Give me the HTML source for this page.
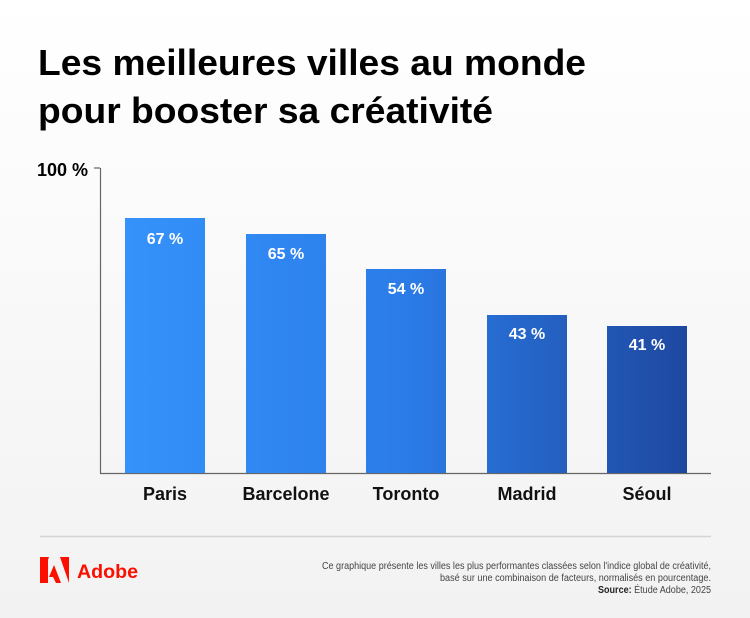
<!DOCTYPE html>
<html><head><meta charset="utf-8"><style>
body{margin:0;width:750px;height:618px;overflow:hidden;background:linear-gradient(#ffffff,#f2f2f2);font-family:"Liberation Sans",sans-serif;}
</style></head><body>
<svg width="750" height="618" xmlns="http://www.w3.org/2000/svg" style="position:absolute;left:0;top:0">
<defs><linearGradient id="g" gradientUnits="userSpaceOnUse" x1="125" y1="0" x2="687" y2="0">
<stop offset="0" stop-color="#3592fb"/><stop offset="0.5" stop-color="#2b7ce8"/><stop offset="1" stop-color="#1e48a0"/></linearGradient></defs>
<g font-weight="bold" fill="#000" font-size="36">
<text x="38" y="75" textLength="548" lengthAdjust="spacingAndGlyphs">Les meilleures villes au monde</text>
<text x="38" y="123" textLength="455" lengthAdjust="spacingAndGlyphs">pour booster sa créativité</text>
</g>
<text x="88" y="176" font-size="18" font-weight="bold" text-anchor="end">100 %</text>
<line x1="94" y1="168" x2="100" y2="168" stroke="#666" stroke-width="1.2"/>
<line x1="100.5" y1="168" x2="100.5" y2="474" stroke="#666" stroke-width="1.2"/>
<line x1="100" y1="473.5" x2="711" y2="473.5" stroke="#666" stroke-width="1.2"/>
<g fill="url(#g)">
<rect x="125" y="218" width="80" height="255"/>
<rect x="246" y="234" width="80" height="239"/>
<rect x="366" y="269" width="80" height="204"/>
<rect x="487" y="315" width="80" height="158"/>
<rect x="607" y="326" width="80" height="147"/>
</g>
<g fill="#fff" font-size="16" font-weight="bold" text-anchor="middle">
<text x="165" y="244">67 %</text><text x="286" y="259">65 %</text><text x="406" y="294">54 %</text><text x="527" y="339">43 %</text><text x="647" y="350">41 %</text>
</g>
<g fill="#111" font-size="18" font-weight="bold" text-anchor="middle">
<text x="165" y="500">Paris</text><text x="286" y="500">Barcelone</text><text x="406" y="500">Toronto</text><text x="527" y="500">Madrid</text><text x="647" y="500">Séoul</text>
</g>
<line x1="40" y1="536.5" x2="711" y2="536.5" stroke="#d4d4d4" stroke-width="1.5"/>
<polygon points="40,557 48,557 48,583 40,583" fill="#fa0f00"/>
<polygon points="40,557 49,557 40,583" fill="#fa0f00"/>
<polygon points="60,557 69,557 69,583" fill="#fa0f00"/>
<polygon points="54,565 61,583 56,583 53,577 49,577" fill="#fa0f00"/>
<text x="77" y="578" font-size="19" font-weight="bold" fill="#fa0f00" textLength="61" lengthAdjust="spacingAndGlyphs">Adobe</text>
<g font-size="10" fill="#444">
<text x="322" y="569" textLength="389" lengthAdjust="spacingAndGlyphs">Ce graphique présente les villes les plus performantes classées selon l'indice global de créativité,</text>
<text x="440" y="581" textLength="271" lengthAdjust="spacingAndGlyphs">basé sur une combinaison de facteurs, normalisés en pourcentage.</text>
<text x="598" y="593" textLength="113" lengthAdjust="spacingAndGlyphs"><tspan font-weight="bold" fill="#222">Source:</tspan> Étude Adobe, 2025</text>
</g>
</svg>
</body></html>
